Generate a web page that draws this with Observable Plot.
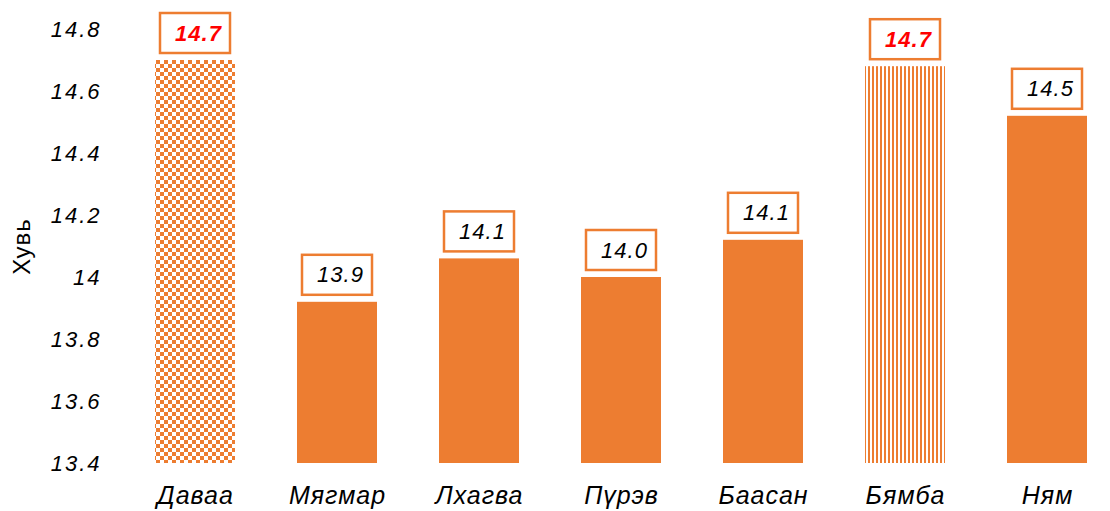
<!DOCTYPE html>
<html>
<head>
<meta charset="utf-8">
<script src="https://cdn.jsdelivr.net/npm/d3@7"></script>
<script src="https://cdn.jsdelivr.net/npm/@observablehq/plot@0.6"></script>
<style>
  html, body { margin: 0; padding: 0; background: #fff; }
  #chart svg { font-family: "Liberation Sans", Arial, sans-serif; }
</style>
</head>
<body>
<div id="chart"></div>
<script>
const days = ["Даваа", "Мягмар", "Лхагва", "Пүрэв", "Баасан", "Бямба", "Ням"];
const values = [14.70, 13.92, 14.06, 14.00, 14.12, 14.68, 14.52];
const labels = ["14.7", "13.9", "14.1", "14.0", "14.1", "14.7", "14.5"];
const highlight = [true, false, false, false, false, true, false];
const fills = ["url(#checker)", "solid", "solid", "solid", "solid", "url(#stripes)", "solid"];
const yTicks = [13.4, 13.6, 13.8, 14.0, 14.2, 14.4, 14.6, 14.8];
const yLabel = "Хувь";

const ORANGE = "#ED7D31";
const data = days.map((d, i) => ({day: d, value: values[i], label: labels[i], hi: highlight[i], fill: fills[i]}));

const chart = Plot.plot({
  width: 1110,
  height: 511,
  marginTop: 29,
  marginBottom: 48,
  marginLeft: 120,
  marginRight: 0,
  style: {fontFamily: "'Liberation Sans', Arial, sans-serif", background: "#fff", overflow: "visible"},
  x: {domain: days, range: [120, 1121], paddingInner: 0.44, paddingOuter: 0.224, label: null},
  y: {domain: [13.4, 14.8], label: null},
  marks: [
    Plot.barY(data, {x: "day", y1: 13.4, y2: "value",
      fill: d => d.fill === "solid" ? ORANGE : d.fill}),
    Plot.ruleY([13.4], {x1: 120, x2: 1110, stroke: "#d9d9d9", strokeWidth: 1.3}),
    Plot.barY(data, {x: "day", y1: "value", y2: "value", fill: "#fff", stroke: ORANGE, strokeWidth: 2.5,
      insetTop: -47, insetBottom: 7, insetLeft: 5, insetRight: 5}),
    Plot.text(data.filter(d => !d.hi), {x: "day", y: "value", text: "label", dy: -27, dx: 3,
      fontSize: 22, fontStyle: "italic", fill: "#000", className: "dlabel"}),
    Plot.text(data.filter(d => d.hi), {x: "day", y: "value", text: "label", dy: -27, dx: 3,
      fontSize: 22, fontStyle: "italic", fontWeight: "bold", fill: "#FF0000", className: "dlabel"}),
    Plot.axisY({ticks: yTicks, tickFormat: d => String(+d.toFixed(1)), tickSize: 0, tickPadding: 19,
      fontSize: 22, fontStyle: "italic", fill: "#000", label: null, className: "yax"}),
    Plot.axisX({tickSize: 0, tickPadding: 23, fontSize: 25, fontStyle: "italic", fill: "#000", label: null, className: "xax"}),
    Plot.text([yLabel], {frameAnchor: "left", textAnchor: "middle", dx: -98, dy: 0, rotate: -90, fontSize: 24, fill: "#000", text: d => d, className: "ylab"})
  ]
});

// letter spacing to match the wider reference glyphs
d3.select(chart).selectAll(".yax text").style("letter-spacing", "2px");
d3.select(chart).selectAll(".xax text").style("letter-spacing", "1px");
d3.select(chart).selectAll(".dlabel text").style("letter-spacing", "1px");
d3.select(chart).selectAll(".ylab text").style("letter-spacing", "1px");

// Define patterns
const defs = d3.select(chart).insert("defs", ":first-child");
const checker = defs.append("pattern").attr("id", "checker").attr("patternUnits", "userSpaceOnUse")
  .attr("width", 8).attr("height", 8);
checker.append("rect").attr("width", 8).attr("height", 8).attr("fill", "#fff");
checker.append("rect").attr("width", 4).attr("height", 4).attr("fill", ORANGE);
checker.append("rect").attr("x", 4).attr("y", 4).attr("width", 4).attr("height", 4).attr("fill", ORANGE);
const stripes = defs.append("pattern").attr("id", "stripes").attr("patternUnits", "userSpaceOnUse")
  .attr("width", 4).attr("height", 4);
stripes.append("rect").attr("width", 4).attr("height", 4).attr("fill", "#fff");
stripes.append("rect").attr("width", 2).attr("height", 4).attr("fill", ORANGE);

document.getElementById("chart").appendChild(chart);
</script>
</body>
</html>
